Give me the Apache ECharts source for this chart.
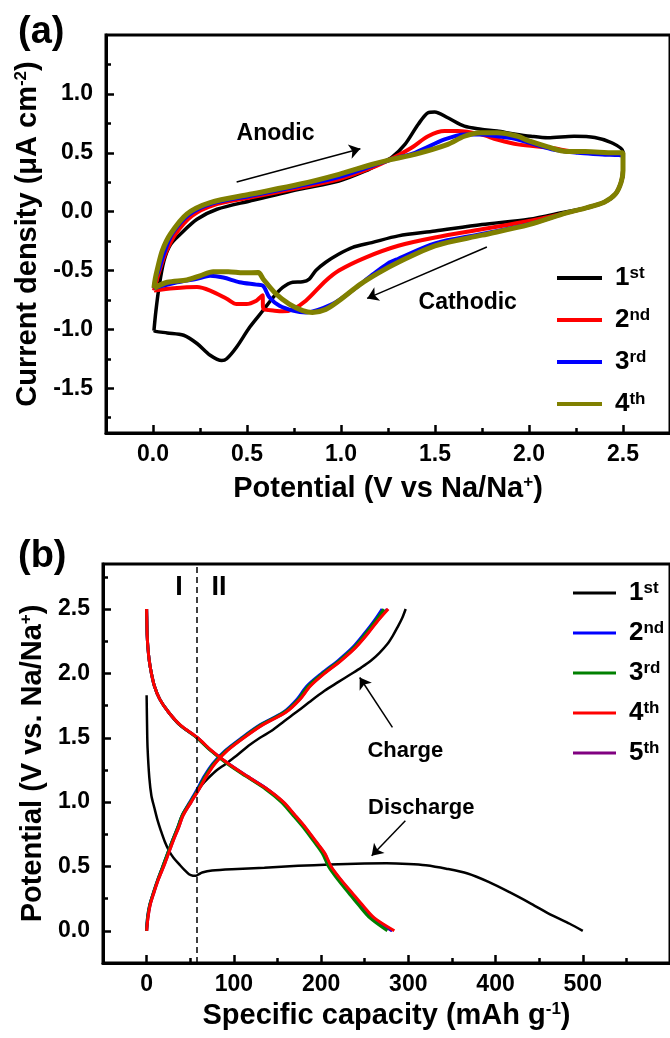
<!DOCTYPE html>
<html>
<head>
<meta charset="utf-8">
<script src="https://cdn.jsdelivr.net/npm/echarts@6.0.0/dist/echarts.min.js"></script>
<style>
    html, body { margin: 0; padding: 0; background: #fff; }
    #main { width: 670px; height: 1038px; }
</style>
</head>
<body>
<div id="main"></div>
<script>
// ---- (a) cyclic voltammetry, [potential V, current density uA/cm2], one closed loop per cycle
var cv1 = [[0.005,-1.01],[0.015,-0.85],[0.032,-0.64],[0.058,-0.42],[0.093,-0.28],[0.146,-0.19],[0.234,-0.065],[0.34,0.02],
    [0.515,0.09],[0.778,0.19],[0.989,0.26],[1.13,0.345],[1.217,0.415],[1.27,0.46],[1.34,0.571],[1.41,0.74],[1.463,0.84],
    [1.498,0.847],[1.568,0.797],[1.656,0.726],[1.744,0.70],[1.83,0.684],[1.92,0.66],[2.01,0.64],[2.1,0.627],[2.24,0.64],
    [2.35,0.63],[2.44,0.585],[2.5,0.51],[2.5,0.35],[2.49,0.25],[2.46,0.15],[2.4,0.08],[2.3,0.03],[2.2,0.0],[2.0,-0.065],
    [1.75,-0.11],[1.5,-0.165],[1.305,-0.206],[1.164,-0.263],[1.059,-0.305],[0.989,-0.36],[0.919,-0.43],[0.866,-0.50],
    [0.831,-0.573],[0.796,-0.596],[0.743,-0.60],[0.69,-0.644],[0.638,-0.73],[0.585,-0.84],[0.515,-0.98],[0.445,-1.15],
    [0.392,-1.25],[0.366,-1.265],[0.304,-1.22],[0.234,-1.12],[0.163,-1.05],[0.076,-1.03],[0.014,-1.017],[0.005,-1.01]];
var cv2 = [[0.005,-0.67],[0.02,-0.58],[0.035,-0.5],[0.07,-0.34],[0.12,-0.19],[0.207,-0.036],[0.32,0.054],[0.515,0.119],
    [0.778,0.203],[0.989,0.275],[1.164,0.373],[1.27,0.45],[1.375,0.542],[1.463,0.64],[1.551,0.684],[1.62,0.684],
    [1.744,0.656],[1.83,0.613],[1.94,0.571],[2.12,0.54],[2.24,0.51],[2.39,0.50],[2.5,0.49],[2.5,0.35],[2.49,0.25],
    [2.46,0.15],[2.4,0.08],[2.3,0.03],[2.2,-0.01],[2.0,-0.08],[1.75,-0.15],[1.5,-0.22],[1.305,-0.29],[1.13,-0.39],
    [0.989,-0.50],[0.919,-0.587],[0.813,-0.757],[0.743,-0.83],[0.69,-0.847],[0.638,-0.84],[0.59,-0.83],[0.585,-0.81],
    [0.583,-0.71],[0.575,-0.72],[0.55,-0.757],[0.497,-0.785],[0.445,-0.785],[0.392,-0.74],[0.304,-0.67],[0.234,-0.64],
    [0.11,-0.65],[0.005,-0.67]];
var cv3 = [[0.005,-0.65],[0.015,-0.56],[0.03,-0.5],[0.06,-0.35],[0.102,-0.19],[0.19,-0.028],[0.313,0.068],[0.515,0.133],
    [0.778,0.218],[0.989,0.294],[1.164,0.387],[1.27,0.445],[1.393,0.50],[1.551,0.613],[1.656,0.656],[1.744,0.656],
    [1.83,0.64],[1.94,0.613],[2.12,0.53],[2.26,0.50],[2.39,0.485],[2.5,0.47],[2.5,0.35],[2.49,0.25],[2.46,0.15],
    [2.4,0.08],[2.3,0.03],[2.2,-0.01],[2.0,-0.107],[1.75,-0.19],[1.5,-0.27],[1.305,-0.40],[1.25,-0.44],[1.164,-0.54],
    [1.059,-0.672],[0.954,-0.785],[0.813,-0.856],[0.743,-0.84],[0.673,-0.80],[0.62,-0.73],[0.585,-0.63],[0.55,-0.62],
    [0.46,-0.60],[0.374,-0.56],[0.304,-0.545],[0.234,-0.57],[0.128,-0.60],[0.005,-0.65]];
var cv4 = [[0.005,-0.65],[0.012,-0.57],[0.023,-0.49],[0.05,-0.33],[0.093,-0.19],[0.181,-0.02],[0.304,0.076],[0.515,0.147],
    [0.778,0.232],[0.989,0.317],[1.164,0.40],[1.27,0.444],[1.393,0.486],[1.568,0.571],[1.656,0.64],[1.744,0.67],
    [1.83,0.67],[1.94,0.64],[2.0,0.6],[2.1,0.55],[2.2,0.51],[2.3,0.51],[2.45,0.5],[2.5,0.5],[2.5,0.35],[2.49,0.25],
    [2.46,0.15],[2.4,0.08],[2.3,0.03],[2.2,-0.01],[2.0,-0.11],[1.75,-0.2],[1.5,-0.29],[1.305,-0.43],[1.2,-0.52],
    [1.1,-0.62],[0.989,-0.757],[0.919,-0.83],[0.848,-0.856],[0.796,-0.84],[0.725,-0.785],[0.655,-0.70],[0.585,-0.57],
    [0.56,-0.517],[0.48,-0.52],[0.4,-0.51],[0.32,-0.51],[0.25,-0.545],[0.18,-0.58],[0.076,-0.60],[0.005,-0.65]];

// ---- (b) galvanostatic curves, capacity mAh/g read at fixed potentials
var chgV = [0,0.1,0.2,0.3,0.4,0.5,0.6,0.7,0.8,0.9,1.0,1.1,1.2,1.3,1.4,1.5,1.6,1.7,1.8,1.9,2.0,2.1,2.2,2.3,2.4,2.5];
var chg2 = [0,1,3.5,8,13,18.5,24,29.5,35.5,41,49.5,58,66,76,90,109,130,157,172.5,183.5,200.5,219.5,236,248.5,260,270];
var chg3 = [0,1,3.5,8,13,18.5,24,29.5,35.5,41,50,59,67,77,91,110,131,158,174,185,202,221,237.5,250,261.5,272];
var chg4 = [0,1.5,4,8.5,13.5,19.5,25,30.5,36.5,42,51,60,68.5,78.5,92.5,111.5,133,160,176,187.5,204,223,239.5,252.5,264,277];
var chg5 = [0,1.5,4,8.5,13.5,19.5,25,30.5,36.5,42,51,60,68,78,92,111,132.5,159.5,175.5,187,203.5,222.5,239,252,263.5,276];
var disV = [2.5,2.4,2.3,2.2,2.1,2.0,1.9,1.8,1.7,1.6,1.5,1.4,1.3,1.2,1.1,1.0,0.9,0.8,0.7,0.6,0.5,0.4,0.3,0.2,0.1,0.0];
var dis2 = [0,0.3,0.6,1.5,3,5.5,9,15,25,38,58,74,93.5,115.5,138.5,156.5,169.5,182,193,204,211,222,234,246.5,260,282];
var dis3 = [0,0.3,0.6,1.5,3,5.5,9,15,25,38,57.5,73.5,92,114,136.5,154.5,167.5,180,191,201.5,208.5,219,231,243,256,276];
var dis4 = [0,0.3,0.6,1.5,3,5.5,9,15,25,38.5,58.5,74.5,93.5,115.5,138.5,157,170,182.5,193.5,204.5,211.5,222.5,235,247.5,261,284];
var dis5 = [0,0.3,0.6,1.5,3,5.5,9,15,25,38,58,74,93,115,138,156,169,181.5,192.5,203.5,210.5,221.5,234,246,259.5,281];
// first cycle, [capacity, potential]
var dis1 = [[0,1.83],[0.5,1.6],[1.1,1.42],[3.1,1.19],[5.5,1.05],[8.8,0.958],[12.5,0.86],[16.4,0.777],[21,0.69],[25.8,0.62],
    [31,0.565],[37.2,0.518],[43,0.475],[48.6,0.44],[53,0.428],[56.2,0.427],[60,0.44],[63.7,0.453],[75,0.468],[97.8,0.479],
    [135,0.49],[173.7,0.505],[210,0.515],[249.6,0.523],[275,0.525],[300,0.52],[320,0.51],[343.5,0.483],[368,0.445],
    [392,0.38],[416,0.30],[441,0.21],[465,0.12],[485,0.055],[500,0.0]];
var chg1 = [[0,0],[1,0.1],[3.5,0.2],[8,0.3],[13,0.4],[18.5,0.5],[24,0.6],[29.5,0.7],[35.5,0.8],[41,0.9],[50,1.0],[56.2,1.062],
    [63,1.13],[71.3,1.19],[80,1.245],[90.3,1.295],[103,1.36],[116.8,1.437],[130,1.5],[143.3,1.554],[158,1.63],[173.7,1.709],
    [189,1.79],[204,1.865],[219,1.93],[234.4,1.995],[246,2.045],[257,2.098],[267,2.16],[276,2.228],[282,2.29],[287.5,2.357],
    [293,2.43],[297,2.5]];
var regionSplit = 58;

var cycleLabels = ['1st', '2nd', '3rd', '4th', '5th'];

// ticks
var aXMajor = [0, 0.5, 1, 1.5, 2, 2.5], aXMinor = [0.25, 0.75, 1.25, 1.75, 2.25];
var aYMajor = [-1.5, -1, -0.5, 0, 0.5, 1], aYMinor = [-1.75, -1.25, -0.75, -0.25, 0.25, 0.75, 1.25];
var bXMajor = [0, 100, 200, 300, 400, 500], bXMinor = [50, 150, 250, 350, 450, 550];
var bYMajor = [0, 0.5, 1, 1.5, 2, 2.5], bYMinor = [0.25, 0.75, 1.25, 1.75, 2.25, 2.75];

var FONT = '"Liberation Sans", Arial, sans-serif';

function zip(xs, ys) {
    return xs.map(function (x, i) { return [x, ys[i]]; });
}

function majorAxis(grid, pos, min, max, ticks, dec, name, gap) {
    return {
        type: 'value', gridIndex: grid, position: pos, min: min, max: max,
        axisLine: { show: true, onZero: false, lineStyle: { color: '#000', width: 3 } },
        axisTick: { show: true, inside: true, length: 8, customValues: ticks, lineStyle: { color: '#000', width: 2.5 } },
        axisLabel: {
            show: true, customValues: ticks, color: '#000', fontSize: 23, fontWeight: 'bold', fontFamily: FONT,
            margin: pos === 'left' ? 13 : 10,
            formatter: function (v) { return v.toFixed(dec); }
        },
        splitLine: { show: false },
        name: name, nameLocation: 'middle', nameGap: gap,
        nameTextStyle: {
            color: '#000', fontSize: 29, fontWeight: 'bold', fontFamily: FONT,
            rich: { s: { fontSize: 17, fontWeight: 'bold', fontFamily: FONT, color: '#000', verticalAlign: 'bottom', padding: [0, 0, 13, 0] } }
        }
    };
}

function minorAxis(grid, pos, min, max, ticks) {
    return {
        type: 'value', gridIndex: grid, position: pos, min: min, max: max,
        axisLine: { show: false, onZero: false },
        axisTick: { show: true, inside: true, length: 5, customValues: ticks, lineStyle: { color: '#000', width: 2.5 } },
        axisLabel: { show: false },
        splitLine: { show: false }
    };
}

function line(name, data, color, width, xi, smooth) {
    return {
        name: name, type: 'line', data: data, xAxisIndex: xi, yAxisIndex: xi,
        symbol: 'none', smooth: smooth, color: color,
        lineStyle: { color: color, width: width }
    };
}

var textLabel = { show: true, position: 'inside', color: '#000', fontSize: 23, fontWeight: 'bold', fontFamily: FONT,
    formatter: function (p) { return p.name; } };

var arrowLine = {
    silent: true, symbol: ['none', 'arrow'], symbolSize: 11,
    lineStyle: { color: '#000', width: 1.5, type: 'solid' }, label: { show: false }
};

var s = [];
// panel a
var a1 = line('a1', cv1, '#000000', 3.5, 0, 0.3);
a1.markLine = Object.assign({}, arrowLine, { data: [
    [{ coord: [0.445, 0.252] }, { coord: [1.103, 0.534] }],
    [{ coord: [1.776, -0.30] }, { coord: [1.139, -0.737] }]
] });
a1.markPoint = { silent: true, symbol: 'circle', symbolSize: 1, itemStyle: { color: 'rgba(0,0,0,0)' }, label: textLabel,
    data: [{ name: 'Anodic', coord: [0.652, 0.658] }, { name: 'Cathodic', coord: [1.674, -0.774] }] };
s.push(a1);
s.push(line('a2', cv2, '#ff0000', 4, 0, 0.3));
s.push(line('a3', cv3, '#0000ff', 4, 0, 0.3));
s.push(line('a4', cv4, '#808000', 5, 0, 0.3));

// panel b
var b1d = line('b1', dis1, '#000000', 2.5, 2, 0.3);
b1d.markLine = Object.assign({}, arrowLine, { data: [
    [{ coord: [281.8, 1.58] }, { coord: [244.3, 1.968] }],
    [{ coord: [296.6, 0.855] }, { coord: [258, 0.583] }]
] });
b1d.markPoint = { silent: true, symbol: 'circle', symbolSize: 1, itemStyle: { color: 'rgba(0,0,0,0)' },
    label: Object.assign({}, textLabel, { fontSize: 22 }),
    data: [{ name: 'Charge', coord: [296.6, 1.40] }, { name: 'Discharge', coord: [314.8, 0.958] },
           { name: 'I', coord: [37, 2.667], label: { fontSize: 27 } }, { name: 'II', coord: [83, 2.667], label: { fontSize: 27 } }] };
s.push(b1d);
s.push(line('b1', chg1, '#000000', 2.5, 2, 0.3));
var b5d = line('b5', zip(dis5, disV), '#800080', 3, 2, 0.3);
b5d.markLine = { silent: true, symbol: 'none', label: { show: false },
    lineStyle: { color: '#000', width: 1.5, type: [6, 4] }, data: [{ xAxis: regionSplit }] };
s.push(b5d);
s.push(line('b5', zip(chg5, chgV), '#800080', 3, 2, 0.3));
s.push(line('b2', zip(dis2, disV), '#0000ff', 3, 2, 0.3));
s.push(line('b2', zip(chg2, chgV), '#0000ff', 3, 2, 0.3));
s.push(line('b3', zip(dis3, disV), '#008000', 3, 2, 0.3));
s.push(line('b3', zip(chg3, chgV), '#008000', 3, 2, 0.3));
s.push(line('b4', zip(dis4, disV), '#ff0000', 3, 2, 0.3));
s.push(line('b4', zip(chg4, chgV), '#ff0000', 3, 2, 0.3));

function legendFmt(name) {
    var i = parseInt(name.slice(1), 10) - 1;
    var t = cycleLabels[i];
    return '{n|' + t.charAt(0) + '}{s|' + t.slice(1) + '}';
}
var legendText = {
    color: '#000', fontFamily: FONT, fontWeight: 'bold', fontSize: 26,
    rich: {
        n: { fontSize: 26, fontWeight: 'bold', fontFamily: FONT, color: '#000', padding: [0, 0, 0, 8] },
        s: { fontSize: 17, fontWeight: 'bold', fontFamily: FONT, color: '#000', verticalAlign: 'top' }
    }
};

var myChart = echarts.init(document.getElementById('main'), null, { renderer: 'canvas' });
var option = {
    animation: false,
    backgroundColor: '#fff',
    title: [
        { text: '(a)', left: 13, top: 9, textStyle: { fontSize: 38, fontWeight: 'bold', fontFamily: FONT, color: '#000' } },
        { text: '(b)', left: 13, top: 533, textStyle: { fontSize: 38, fontWeight: 'bold', fontFamily: FONT, color: '#000' } }
    ],
    grid: [
        { left: 106, top: 35, width: 568, height: 398, show: true, borderColor: '#000', borderWidth: 3, backgroundColor: 'transparent' },
        { left: 103, top: 564, width: 571, height: 399, show: true, borderColor: '#000', borderWidth: 3, backgroundColor: 'transparent' }
    ],
    xAxis: [
        majorAxis(0, 'bottom', -0.25, 2.75, aXMajor, 1, 'Potential (V vs Na/Na{s|+})', 41),
        minorAxis(0, 'bottom', -0.25, 2.75, aXMinor),
        majorAxis(1, 'bottom', -50, 600, bXMajor, 0, 'Specific capacity (mAh g{s|-1})', 38),
        minorAxis(1, 'bottom', -50, 600, bXMinor)
    ],
    yAxis: [
        majorAxis(0, 'left', -1.88, 1.5, aYMajor, 1, 'Current density (μA cm{s|-2})', 57),
        minorAxis(0, 'left', -1.88, 1.5, aYMinor),
        majorAxis(1, 'left', -0.25, 2.85, bYMajor, 1, 'Potential (V vs. Na/Na{s|+})', 49),
        minorAxis(1, 'left', -0.25, 2.85, bYMinor)
    ],
    legend: [
        { data: ['a1', 'a2', 'a3', 'a4'], orient: 'vertical', left: 552, top: 260, icon: 'rect', itemWidth: 45, itemHeight: 4,
          itemGap: 16, selectedMode: false, formatter: legendFmt, textStyle: legendText },
        { data: ['b1', 'b2', 'b3', 'b4', 'b5'], orient: 'vertical', left: 568, top: 575, icon: 'rect', itemWidth: 43, itemHeight: 3,
          itemGap: 14, selectedMode: false, formatter: legendFmt, textStyle: legendText }
    ],
    series: s
};
myChart.setOption(option);
</script>
</body>
</html>
